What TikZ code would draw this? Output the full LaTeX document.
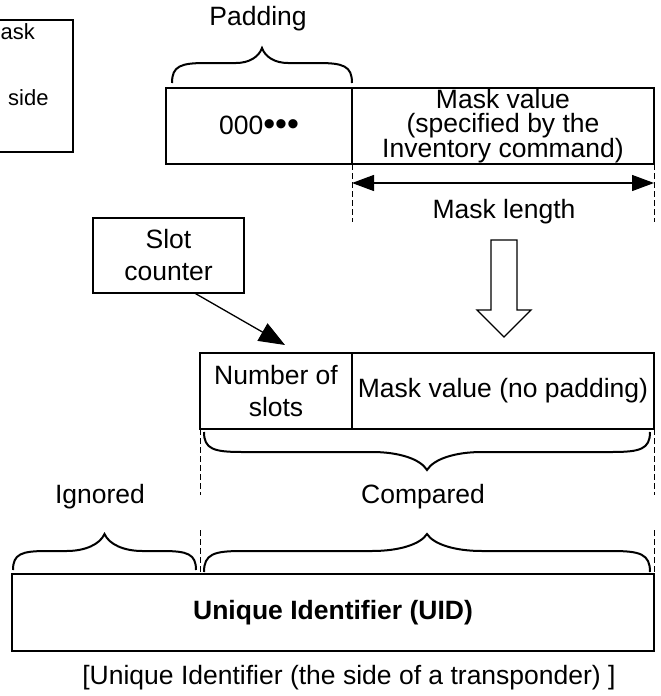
\documentclass[tikz,border=0pt]{standalone}
\usepackage{fontspec}
\setmainfont{Liberation Sans}
\usetikzlibrary{arrows.meta}
\newcommand\mybrace[7]{%
\draw[brc] (#1,#3) .. controls (#1,{#4+0.15*(#3-#4)}) and ({#1+0.25*#6},#4) .. ({#1+#6},#4)
 -- ({(#1+#2)/2-#7},#4) .. controls ({(#1+#2)/2-0.5*#7},#4) and ({(#1+#2)/2-0.12*#7},{#4+0.4*(#5-#4)}) .. ({(#1+#2)/2},#5)
 .. controls ({(#1+#2)/2+0.12*#7},{#4+0.4*(#5-#4)}) and ({(#1+#2)/2+0.5*#7},#4) .. ({(#1+#2)/2+#7},#4)
 -- ({#2-#6},#4) .. controls ({#2-0.25*#6},#4) and (#2,{#4+0.15*(#3-#4)}) .. (#2,#3);}
\begin{document}
\begin{tikzpicture}[x=1pt,y=-1pt,
  txt/.style={font=\fontsize{26.5}{32}\selectfont, inner sep=0pt, align=center},
  box/.style={draw, line width=1.3pt, inner sep=0pt, outer sep=0pt, anchor=north west, txt},
  brc/.style={line width=2pt},
  dsh/.style={dash pattern=on 6pt off 3pt, line width=1pt},
  ln/.style={line width=1.3pt}]
\useasboundingbox (0,0) rectangle (661,696);
\begin{scope}
\clip (0,0) rectangle (661,696);
\node[box, minimum width=160pt, minimum height=132pt] (legend) at (-87,20) {};
\end{scope}
\node[txt, font=\fontsize{22}{26}\selectfont, anchor=west] (lt1) at (0.5,32) {ask};
\node[txt, font=\fontsize{22}{26}\selectfont, anchor=west] (lt2) at (8,98) {side};
% top bar
\node[box, minimum width=186pt, minimum height=76pt] (padcell) at (166,88) {000\raisebox{-1pt}{\fontsize{34}{34}\selectfont •••}};
\node[box, minimum width=302pt, minimum height=76pt, font=\fontsize{26.5}{24}\selectfont] (maskcell) at (352,88) {Mask value\\(specified by the\\Inventory command)};
\node[txt] (padding) at (258,19) {Padding};
\mybrace{172}{352}{83}{63}{48}{34}{26}
\draw[dsh] (352,164) -- (352,222);
\draw[dsh] (654,164) -- (654,222);
\coordinate (ma) at (352,183);
\coordinate (mb) at (654,183);
\draw[ln, {Triangle[length=22pt,width=16pt]}-{Triangle[length=22pt,width=16pt]}] (ma) -- (mb);
\node[txt] (masklen) at (504,212) {Mask length};
% slot counter
\node[box, minimum width=151pt, minimum height=75pt] (slot) at (93,218) {Slot\\counter};
\coordinate (stip) at (285,345);
\draw[ln, -{Triangle[length=26pt,width=20pt]}] ([xshift=26pt]slot.south) -- (stip);
% hollow arrow
\draw[ln, fill=white] (491,240) -- (517,240) -- (517,310) -- (531,310) -- (504,337) -- (477,310) -- (491,310) -- cycle;
% middle bar
\node[box, minimum width=152pt, minimum height=76pt] (slots) at (200,353) {Number of\\slots};
\node[box, minimum width=302pt, minimum height=76pt] (masknp) at (352,353) {Mask value (no padding)};
\mybrace{204}{650}{432}{452}{470}{38}{55}
\draw[dsh] (200,429) -- (200,495);
\draw[dsh] (654,429) -- (654,495);
\draw[dsh] (200,530) -- (200,574);
\draw[dsh] (654,530) -- (654,574);
\node[txt] (ignored) at (100,497) {Ignored};
\node[txt] (compared) at (423,497) {Compared};
\mybrace{13}{196}{570}{551}{534}{34}{38}
\mybrace{204}{650}{572}{551}{534}{38}{55}
% UID
\node[box, minimum width=642pt, minimum height=77pt, font=\fontsize{26.5}{32}\selectfont\bfseries] (uid) at (12,574) {Unique Identifier (UID)};
\node[txt] (caption) at (349,678) {[Unique Identifier (the side of a transponder) ]};
\end{tikzpicture}
\end{document}
